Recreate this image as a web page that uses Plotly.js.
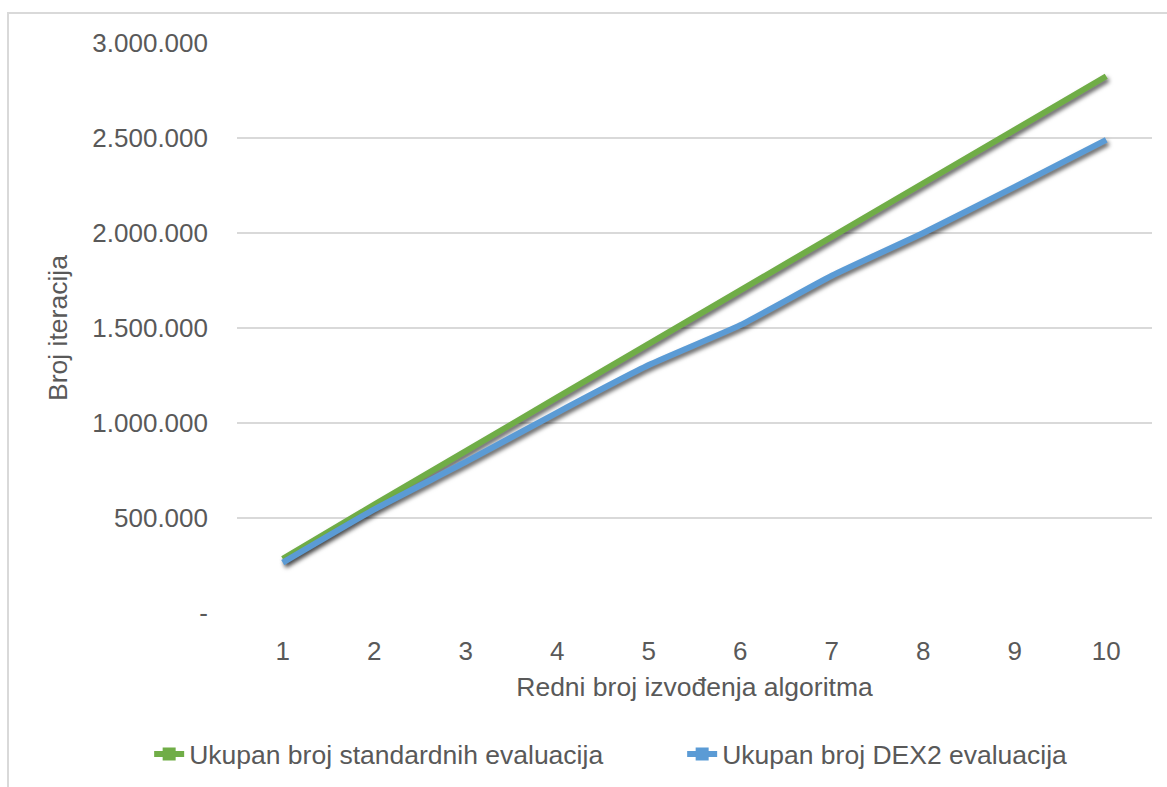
<!DOCTYPE html>
<html>
<head>
<meta charset="utf-8">
<script src="https://cdn.plot.ly/plotly-3.0.1.min.js"></script>
<style>
  html, body { margin: 0; padding: 0; background: #ffffff; }
  #frame { position: absolute; left: 7px; top: 12px; width: 1160px; height: 775px;
           border-top: 2px solid #d9d9d9; border-left: 2px solid #d9d9d9; box-sizing: border-box; }
  #chart { position: absolute; left: 0; top: 0; width: 1167px; height: 787px; }
  #chart .scatterlayer .js-line { filter: drop-shadow(2px 3px 2px rgba(0,0,0,0.6)); }
</style>
</head>
<body>
<div id="frame"></div>
<div id="chart"></div>
<script>
// ---- data ----
const categories = ['1', '2', '3', '4', '5', '6', '7', '8', '9', '10'];
const standardEvaluations = [285000, 570000, 852000, 1135000, 1416000, 1698000, 1980000, 2262000, 2543000, 2825000];
const dex2Evaluations = [265000, 545000, 795000, 1055000, 1305000, 1515000, 1775000, 2000000, 2243000, 2490000];
const yTickValues = [0, 500000, 1000000, 1500000, 2000000, 2500000, 3000000];
const yTickLabels = ['-', '500.000', '1.000.000', '1.500.000', '2.000.000', '2.500.000', '3.000.000'];
const seriesNames = ['Ukupan broj standardnih evaluacija', 'Ukupan broj DEX2 evaluacija'];
const seriesColors = ['#70AD47', '#5B9BD5'];

const FONT = 'Liberation Sans, Arial, sans-serif';
const TXT = '#595959';

const lineTraces = [standardEvaluations, dex2Evaluations].map((vals, i) => ({
  type: 'scatter', mode: 'lines', x: categories, y: vals,
  line: { color: seriesColors[i], width: 6, shape: 'spline', smoothing: 0.5 },
  showlegend: false, hoverinfo: 'x+y'
}));
const legendTraces = seriesNames.map((name, i) => ({
  type: 'scatter', mode: 'lines+markers', x: [null], y: [null], name: name,
  line: { color: seriesColors[i], width: 6 },
  marker: { color: seriesColors[i], symbol: 'square', size: 13 },
  showlegend: true
}));

const layout = {
  width: 1167, height: 787,
  paper_bgcolor: 'rgba(0,0,0,0)', plot_bgcolor: 'rgba(0,0,0,0)',
  margin: { l: 237, r: 15, t: 42.5, b: 173.5, autoexpand: false },
  font: { family: FONT, color: TXT, size: 26 },
  showlegend: true,
  xaxis: {
    type: 'category', range: [-0.5, 9.5], showgrid: false, zeroline: false, showline: false,
    ticks: '', tickfont: { family: FONT, size: 26, color: TXT }, ticklabelstandoff: 20,
    title: { text: 'Redni broj izvođenja algoritma', font: { family: FONT, size: 26.5, color: TXT }, standoff: 12 },
    automargin: false, fixedrange: true
  },
  yaxis: {
    range: [0, 3000000], tickvals: yTickValues, ticktext: yTickLabels,
    showgrid: true, gridcolor: '#d9d9d9', gridwidth: 1.5, zeroline: false, showline: false,
    ticks: '', tickfont: { family: FONT, size: 26, color: TXT }, ticklabelstandoff: 28,
    title: { text: 'Broj iteracija', font: { family: FONT, size: 26.5, color: TXT }, standoff: 17 },
    automargin: false, fixedrange: true
  },
  legend: {
    orientation: 'h', xref: 'paper', yref: 'paper', x: -0.096, xanchor: 'left', y: -0.248, yanchor: 'middle',
    entrywidth: 488, entrywidthmode: 'pixels',
    font: { family: FONT, size: 26.5, color: TXT }, bgcolor: 'rgba(0,0,0,0)', traceorder: 'normal'
  }
};

Plotly.newPlot('chart', [...lineTraces, ...legendTraces], layout, { displayModeBar: false });
</script>
</body>
</html>
